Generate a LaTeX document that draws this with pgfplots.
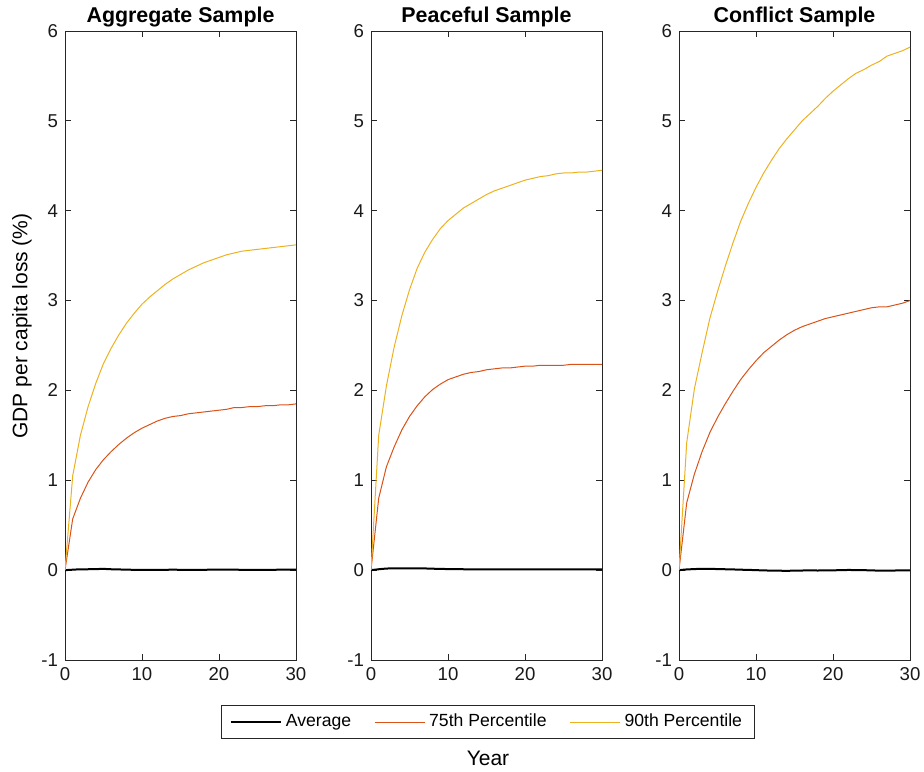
\documentclass[border=0pt]{standalone}
\usepackage{fontspec}
\setmainfont{Liberation Sans}
\usepackage{pgfplots}
\usepackage{pgfplotstable}
\pgfplotsset{compat=1.18}
\definecolor{c75}{rgb}{0.85,0.325,0.098}
\definecolor{c90}{rgb}{0.929,0.694,0.125}
\definecolor{axgray}{gray}{0.15}

\pgfplotstableread{
year avg p75 p90
0 0.000 0.00 0.00
1 0.005 0.57 1.05
2 0.010 0.80 1.50
3 0.010 0.98 1.82
4 0.012 1.12 2.08
5 0.014 1.23 2.30
6 0.010 1.32 2.47
7 0.008 1.40 2.62
8 0.005 1.47 2.75
9 0.004 1.53 2.86
10 0.003 1.58 2.96
11 0.003 1.62 3.04
12 0.004 1.66 3.11
13 0.004 1.69 3.18
14 0.005 1.71 3.24
15 0.004 1.72 3.29
16 0.003 1.74 3.34
17 0.003 1.75 3.38
18 0.004 1.76 3.42
19 0.005 1.77 3.45
20 0.006 1.78 3.48
21 0.006 1.79 3.51
22 0.005 1.81 3.53
23 0.004 1.81 3.55
24 0.004 1.82 3.56
25 0.003 1.82 3.57
26 0.003 1.83 3.58
27 0.004 1.83 3.59
28 0.005 1.84 3.60
29 0.005 1.84 3.61
30 0.005 1.85 3.62
}\aggtab

\pgfplotstableread{
year avg p75 p90
0 0.000 0.00 0.00
1 0.010 0.80 1.50
2 0.018 1.15 2.05
3 0.020 1.37 2.48
4 0.020 1.56 2.83
5 0.021 1.71 3.12
6 0.020 1.83 3.36
7 0.019 1.93 3.54
8 0.016 2.01 3.68
9 0.014 2.07 3.80
10 0.012 2.12 3.89
11 0.011 2.15 3.96
12 0.010 2.18 4.03
13 0.010 2.20 4.08
14 0.010 2.21 4.13
15 0.009 2.23 4.18
16 0.009 2.24 4.22
17 0.009 2.25 4.25
18 0.008 2.25 4.28
19 0.008 2.26 4.31
20 0.008 2.27 4.34
21 0.008 2.27 4.36
22 0.008 2.28 4.38
23 0.008 2.28 4.39
24 0.008 2.28 4.41
25 0.008 2.28 4.42
26 0.008 2.29 4.42
27 0.008 2.29 4.43
28 0.008 2.29 4.43
29 0.008 2.29 4.44
30 0.008 2.29 4.45
}\peacetab

\pgfplotstableread{
year avg p75 p90
0 0.000 0.00 0.00
1 0.008 0.75 1.42
2 0.012 1.07 2.02
3 0.015 1.32 2.42
4 0.015 1.53 2.80
5 0.012 1.70 3.10
6 0.010 1.85 3.38
7 0.008 1.99 3.64
8 0.005 2.12 3.88
9 0.003 2.23 4.08
10 0.000 2.33 4.26
11 -0.003 2.42 4.42
12 -0.005 2.49 4.56
13 -0.006 2.56 4.69
14 -0.008 2.62 4.80
15 -0.005 2.67 4.90
16 -0.004 2.71 5.00
17 -0.003 2.74 5.08
18 -0.004 2.77 5.16
19 -0.003 2.80 5.25
20 -0.002 2.82 5.33
21 0.000 2.84 5.40
22 0.002 2.86 5.47
23 0.001 2.88 5.53
24 0.000 2.90 5.57
25 -0.003 2.92 5.62
26 -0.005 2.93 5.66
27 -0.005 2.93 5.72
28 -0.004 2.95 5.75
29 -0.003 2.97 5.78
30 -0.002 3.00 5.82
}\conftab

\pgfplotsset{
 panel/.style={
  scale only axis, width=115.5pt, height=314.5pt,
  anchor=north west,
  xmin=0, xmax=30, ymin=-1, ymax=6,
  xtick={0,10,20,30}, ytick={-1,0,1,2,3,4,5,6},
  tick align=inside, major tick length=3pt,
  axis line style={axgray, line width=0.5pt},
  every tick/.style={axgray, line width=0.5pt},
  tick label style={font=\fontsize{9.3}{11}\selectfont, text=black!90},
  /pgf/number format/assume math mode=true,
  title style={font=\fontsize{10.7}{12}\selectfont\bfseries, at={(0.5,1.0132)}, anchor=base, yshift=-6pt},
 },
 avgline/.style={black, line width=1pt},
 p75line/.style={c75, line width=0.5pt},
 p90line/.style={c90, line width=0.5pt},
}

\begin{document}
\begin{tikzpicture}
\useasboundingbox (0pt,0pt) rectangle (462pt,-385.5pt);

\begin{axis}[panel, at={(32.5pt,-15.5pt)}, title={Aggregate Sample},
  ylabel={GDP per capita loss (\%)},
  ylabel style={font=\fontsize{10.5}{12}\selectfont, at={(rel axis cs:-0.186,0.531)}, anchor=center}]
\addplot[avgline] table[x=year,y=avg] {\aggtab};
\addplot[p75line] table[x=year,y=p75] {\aggtab};
\addplot[p90line] table[x=year,y=p90] {\aggtab};
\end{axis}

\begin{axis}[panel, at={(185.5pt,-15.5pt)}, title={Peaceful Sample},
  xlabel={Year},
  xlabel style={font=\fontsize{10.5}{12}\selectfont, at={(rel axis cs:0.5065,-0.1558)}, anchor=center},
  legend columns=3,
  legend style={at={(rel axis cs:0.5065,-0.0986)}, anchor=center, draw=axgray, line width=0.5pt,
    font=\fontsize{8.8}{10}\selectfont, inner ysep=2.5pt, inner xsep=4pt,
    /tikz/every even column/.append style={column sep=9.5pt}},
  legend image code/.code={\draw[#1] (0pt,0pt) -- (25pt,0pt);}]
\addplot[avgline] table[x=year,y=avg] {\peacetab};
\addlegendentry{Average}
\addplot[p75line] table[x=year,y=p75] {\peacetab};
\addlegendentry{75th Percentile}
\addplot[p90line] table[x=year,y=p90] {\peacetab};
\addlegendentry{90th Percentile}
\end{axis}

\begin{axis}[panel, at={(339.5pt,-15.5pt)}, title={Conflict Sample}]
\addplot[avgline] table[x=year,y=avg] {\conftab};
\addplot[p75line] table[x=year,y=p75] {\conftab};
\addplot[p90line] table[x=year,y=p90] {\conftab};
\end{axis}
\end{tikzpicture}
\end{document}
